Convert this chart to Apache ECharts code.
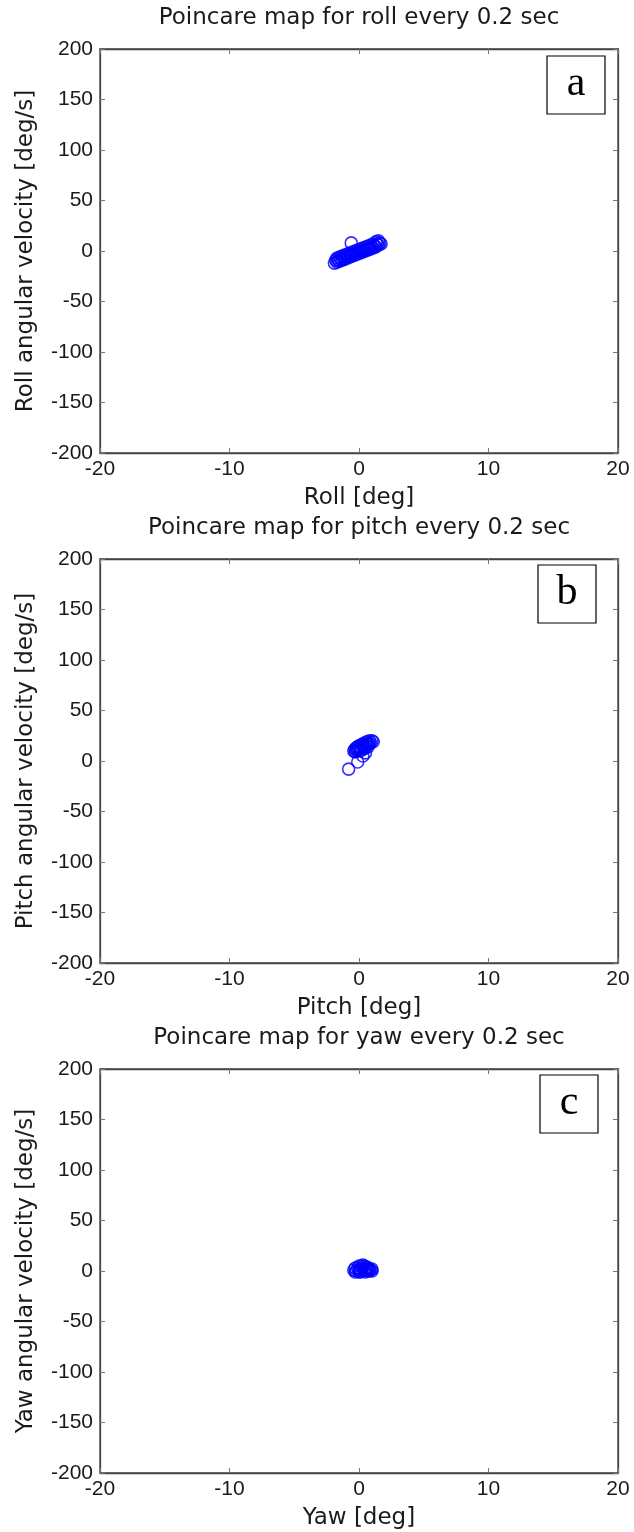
<!DOCTYPE html>
<html><head><meta charset="utf-8">
<script src="https://cdn.jsdelivr.net/npm/echarts@6/dist/echarts.min.js"></script>
<style>html,body{margin:0;padding:0;background:#fff}#c{width:634px;height:1532px}</style>
</head><body><div id="c"></div>
<script>
var titles = ['Poincare map for roll every 0.2 sec','Poincare map for pitch every 0.2 sec','Poincare map for yaw every 0.2 sec'];
var xNames = ['Roll [deg]','Pitch [deg]','Yaw [deg]'];
var yNames = ['Roll angular velocity [deg/s]','Pitch angular velocity [deg/s]','Yaw angular velocity [deg/s]'];
var panelLetters = ['a','b','c'];
var xTicks = [-20,-10,0,10,20];
var yTicks = [-200,-150,-100,-50,0,50,100,150,200];

var rollData = [[-1.9,-12],[-1.8,-9],[-1.7,-11],[-1.7,-7],[-1.6,-9],[-1.5,-6],[-1.5,-10],[-1.4,-8],[-1.3,-5],[-1.3,-9],[-1.2,-7],[-1.1,-4],[-1.1,-8],[-1.0,-6],[-0.9,-3],[-0.9,-7],[-0.8,-5],[-0.7,-2],[-0.7,-6],[-0.6,-4],[-0.5,-1],[-0.5,-5],[-0.4,-3],[-0.3,0],[-0.3,-4],[-0.2,-2],[-0.1,1],[-0.1,-3],[0,-1],[0.1,2],[0.1,-2],[0.2,0],[0.3,3],[0.3,-1],[0.4,1],[0.5,4],[0.5,0],[0.6,2],[0.7,5],[0.7,1],[0.8,3],[0.9,6],[0.9,2],[1.0,4],[1.1,7],[1.1,3],[1.2,5],[1.3,9],[1.3,4],[1.4,7],[1.5,10],[1.5,6],[1.6,8],[1.7,7],[-0.6,8]];
var pitchData = [[-0.4,10],[-0.3,12],[-0.3,9],[-0.2,13],[-0.2,10],[-0.1,11],[-0.1,14],[0,12],[0,15],[0.1,13],[0.1,10],[0.2,16],[0.2,12],[0.3,14],[0.3,17],[0.4,15],[0.4,12],[0.5,18],[0.5,14],[0.6,16],[0.6,19],[0.7,17],[0.7,14],[0.8,20],[0.8,17],[0.9,18],[1.0,20],[1.1,19],[-0.8,-8],[-0.1,-1],[0.3,5],[0.5,8]];
var yawData = [[-0.4,1],[-0.3,3],[-0.3,-1],[-0.2,0],[-0.1,3],[0,1],[0,5],[0.1,2],[0.1,-1],[0.2,0],[0.2,5],[0.3,3],[0.4,1],[0.4,5],[0.5,2],[0.5,-1],[0.6,0],[0.6,4],[0.7,1],[0.7,3],[0.8,2],[0.8,0],[0.9,1],[1.0,0],[1.0,2],[0,-1],[0.3,6]];
var allData = [rollData, pitchData, yawData];

var tops = [49, 559, 1069];
var left = 100, width = 518, height = 404;
var boxes = [[547,56],[538,565],[540,1075]];
var tickFont = '"Liberation Sans", Arial, sans-serif';
var nameFont = '"DejaVu Sans", sans-serif';
var txt = '#1a1a1a';

var grid=[], xAxis=[], yAxis=[], series=[], graphic=[];
for (var i=0;i<3;i++){
  grid.push({left:left, top:tops[i], width:width, height:height, show:true, borderColor:'#444', borderWidth:1.3, backgroundColor:'#fff'});
  var base = {type:'value', min:-20, max:20, interval:10, gridIndex:i,
    axisLine:{show:true,onZero:false,lineStyle:{color:'#444',width:1.3}},
    axisTick:{show:true,inside:true,length:5,lineStyle:{color:'#777'}},
    splitLine:{show:false}};
  xAxis.push(Object.assign({}, base, {position:'bottom', name:xNames[i], nameLocation:'middle', nameGap:34,
    nameTextStyle:{fontFamily:nameFont,fontSize:23,color:txt},
    axisLabel:{fontFamily:tickFont,fontSize:21,color:txt,margin:6,showMinLabel:true,showMaxLabel:true}}));
  xAxis.push(Object.assign({}, base, {position:'top', axisLabel:{show:false}}));
  var ybase = {type:'value', min:-200, max:200, interval:50, gridIndex:i,
    axisLine:{show:true,onZero:false,lineStyle:{color:'#444',width:1.3}},
    axisTick:{show:true,inside:true,length:5,lineStyle:{color:'#777'}},
    splitLine:{show:false}};
  yAxis.push(Object.assign({}, ybase, {position:'left', name:yNames[i], nameLocation:'middle', nameGap:62,
    nameTextStyle:{fontFamily:nameFont,fontSize:23,color:txt},
    axisLabel:{fontFamily:tickFont,fontSize:21,color:txt,margin:7}}));
  yAxis.push(Object.assign({}, ybase, {position:'right', axisLabel:{show:false}}));
  series.push({type:'scatter', xAxisIndex:2*i, yAxisIndex:2*i, data:allData[i], symbol:'circle', symbolSize:12,
    itemStyle:{color:'rgba(0,0,0,0)', borderColor:'#0000ff', borderWidth:1.6}, animation:false});
  graphic.push({type:'text', x:left+width/2, y:tops[i]-31, style:{text:titles[i], font:'23px '+nameFont, fill:txt, textAlign:'center', textVerticalAlign:'middle'}});
  graphic.push({type:'rect', shape:{x:boxes[i][0], y:boxes[i][1], width:58, height:58}, style:{fill:'#fff', stroke:'#000', lineWidth:1.2}});
  graphic.push({type:'text', x:boxes[i][0]+29, y:boxes[i][1]+28, style:{text:panelLetters[i], font:'42px "Liberation Serif", "DejaVu Serif", serif', fill:'#000', textAlign:'center', textVerticalAlign:'middle'}});
}

var chart = echarts.init(document.getElementById('c'), null, {renderer:'canvas'});
chart.setOption({animation:false, backgroundColor:'#fff', grid:grid, xAxis:xAxis, yAxis:yAxis, series:series, graphic:graphic});
</script></body></html>
